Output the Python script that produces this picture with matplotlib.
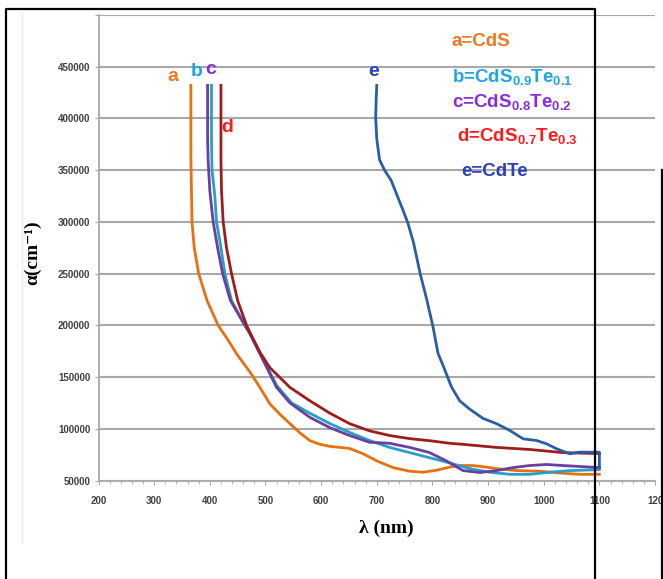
import matplotlib
matplotlib.use("Agg")
import matplotlib.pyplot as plt
from matplotlib.lines import Line2D

plt.rcParams['mathtext.fontset'] = 'custom'
plt.rcParams['mathtext.rm'] = 'Liberation Sans'
plt.rcParams['mathtext.bf'] = 'Liberation Sans:bold'

# a = CdS
lam_a = [366, 366, 367, 368, 372, 380, 395, 415, 430, 450, 472, 490, 508, 526, 544,
         562, 580, 598, 616, 634, 651, 675, 700, 729, 759, 783, 808, 831, 850, 872,
         896, 915, 951, 993, 1034, 1065, 1100]
alf_a = [432000, 360000, 330000, 300000, 275000, 250000, 224000, 200000, 188000, 171000,
         155000, 140000, 124000, 114000, 105000, 96000, 88500, 85000, 83000, 82000,
         81000, 76000, 69000, 62500, 59000, 58000, 60000, 63000, 64500, 64500,
         63000, 61500, 59600, 59000, 57000, 56000, 56000]

# b = CdS0.9Te0.1
lam_b = [403, 403, 404, 409, 412, 420, 427, 439, 463, 472, 497, 520, 547, 580, 616,
         651, 687, 723, 759, 795, 831, 867, 903, 939, 975, 1011, 1047, 1100]
alf_b = [432000, 380000, 350000, 325000, 300000, 275000, 250000, 224000, 200000, 192000,
         166000, 142000, 125000, 115000, 105000, 96500, 88700, 82000, 77000, 72000,
         67000, 61500, 58000, 56000, 56000, 58000, 59600, 60500]

# c = CdS0.8Te0.2
lam_c = [396, 396, 397, 400, 406, 414, 423, 437, 463, 472, 496, 520, 544, 580, 616,
         651, 687, 723, 759, 795, 825, 855, 885, 915, 945, 975, 1005, 1034, 1100]
alf_c = [432000, 380000, 359000, 330000, 300000, 275000, 250000, 224000, 200000, 192000,
         166000, 140000, 125000, 111000, 101000, 93500, 87000, 86000, 82000, 77000,
         69000, 59600, 57700, 59600, 62500, 64500, 65500, 64500, 62500]

# d = CdS0.7Te0.3
lam_d = [420, 420, 421, 424, 430, 439, 450, 466, 475, 490, 508, 544, 580, 616, 651,
         687, 723, 759, 795, 831, 855, 915, 975, 1034, 1100]
alf_d = [432000, 360000, 330000, 300000, 275000, 250000, 224000, 200000, 190000, 174000,
         159000, 140000, 127000, 115000, 105000, 98000, 93500, 90500, 88500, 86000,
         85000, 82000, 80000, 77000, 76000]

# e = CdTe
lam_e = [700, 699, 698, 700, 705, 714, 726, 735, 747, 756, 766, 778, 790, 801, 810,
         820, 834, 849, 867, 891, 915, 939, 963, 987, 1005, 1023, 1047, 1064, 1100, 1100]
alf_e = [432000, 420000, 401000, 380000, 360000, 350000, 340000, 327700, 311500, 298700,
         280000, 250000, 224500, 198700, 173000, 160000, 140700, 127000, 119000, 110000,
         105000, 98400, 90300, 88700, 85500, 80700, 75800, 77400, 77400, 63000]

y_ticks = [50000, 100000, 150000, 200000, 250000, 300000, 350000, 400000, 450000, 500000]
x_ticks = [200, 300, 400, 500, 600, 700, 800, 900, 1000, 1100, 1200]
# la etiqueta 1200 aparece cortada en el original
x_labels = ['200', '300', '400', '500', '600', '700', '800', '900', '1000', '1100', '120']

fig = plt.figure(figsize=(6.63, 5.79), dpi=100)
ax = fig.add_axes([0.1486, 0.1701, 0.8394, 0.8039])

# curvas
ax.plot(lam_a, alf_a, color='#E8700E', lw=2.0)
ax.plot(lam_b, alf_b, color='#26A0C8', lw=2.0)
ax.plot(lam_c, alf_c, color='#6B3FA0', lw=2.0)
ax.plot(lam_d, alf_d, color='#A01C1C', lw=2.0)
ax.plot(lam_e, alf_e, color='#2A5DA8', lw=2.0)

ax.set_xlim(200, 1200)
ax.set_ylim(50000, 500000)
ax.set_yticks(y_ticks)
ax.set_yticklabels([str(v) for v in y_ticks[:-1]] + [''])
ax.set_xticks(x_ticks)
ax.set_xticklabels(x_labels)
ax.set_xticks(range(200, 1201, 20), minor=True)

ax.grid(axis='y', color='#A8A8A8', lw=1.5)
ax.set_axisbelow(True)
for s in ['top', 'right']:
    ax.spines[s].set_visible(False)
for s in ['left', 'bottom']:
    ax.spines[s].set_color('#A8A8A8')
    ax.spines[s].set_linewidth(1.3)

ax.tick_params(axis='y', length=3, color='#A8A8A8', pad=3, labelsize=7, labelcolor='#404040')
ax.tick_params(axis='x', which='major', length=3, color='#A8A8A8', pad=8, labelsize=7, labelcolor='#404040')
ax.tick_params(axis='x', which='minor', length=2, color='#A8A8A8')
for t in ax.get_xticklabels() + ax.get_yticklabels():
    t.set_fontweight('bold')
    t.set_family('Liberation Sans')

# letras sobre las curvas
lf = dict(fontsize=14, fontweight='bold', family='Liberation Sans', ha='center', va='center')
ax.text(334, 441000, 'a', color='#F07820', **lf)
ax.text(377, 445000, 'b', color='#1EA5E8', **lf)
ax.text(402, 447000, 'c', color='#8A2BE2', **lf)
ax.text(432, 391000, 'd', color='#FF1A1A', **lf)
ax.text(695, 445000, 'e', color='#2B3FBF', **lf)

# leyenda
tf = dict(fontsize=13.5, fontweight='bold', family='Liberation Sans', ha='left', va='center')
ax.text(835, 474000, 'a=CdS', color='#F07820', **tf)
ax.text(835, 439000, r'b=CdS$_{\mathbf{0.9}}$Te$_{\mathbf{0.1}}$', color='#1EA5E8', **tf)
ax.text(835, 415000, r'c=CdS$_{\mathbf{0.8}}$Te$_{\mathbf{0.2}}$', color='#8A2BE2', **tf)
ax.text(844, 382000, r'd=CdS$_{\mathbf{0.7}}$Te$_{\mathbf{0.3}}$', color='#FF1A1A', **tf)
ax.text(851, 349000, 'e=CdTe', color='#2B3FBF', **tf)

fig.text(0.0498, 0.563, 'α(cm⁻¹)', rotation=90, fontsize=14, fontweight='bold',
         family=['Liberation Serif', 'DejaVu Serif'], ha='center', va='center')
fig.text(0.582, 0.088, 'λ (nm)', fontsize=14, fontweight='bold',
         family=['Liberation Serif', 'DejaVu Serif'], ha='center', va='center')

# marcos
fig.add_artist(Line2D([22/663, 22/663], [1 - 12/579, 1 - 543/579], color='#E4ECF4', lw=1))
fig.add_artist(Line2D([6/663, 6/663, 595/663, 595/663], [0, 1 - 9/579, 1 - 9/579, 0],
                      color='black', lw=1.6))
fig.add_artist(Line2D([662/663, 662/663], [1 - 170/579, 0], color='black', lw=1.6))

fig.savefig('out.png', dpi=100)
